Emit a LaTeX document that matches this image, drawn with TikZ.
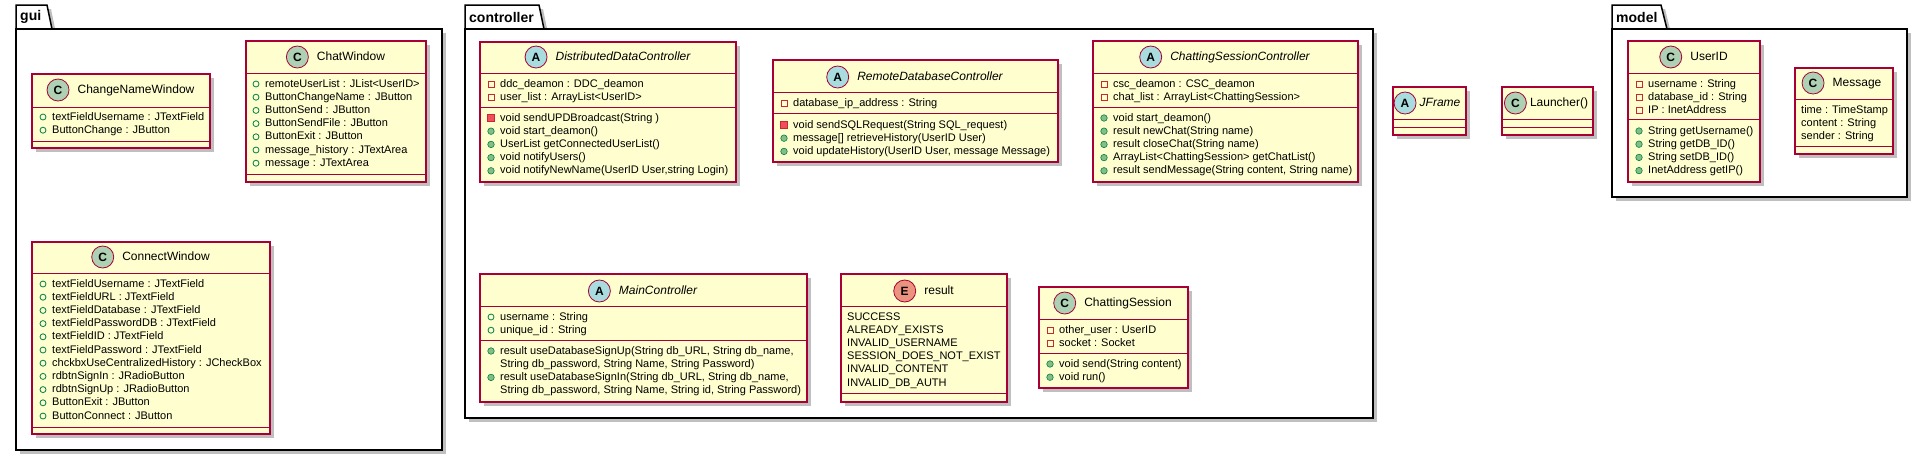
\documentclass[tikz,border=0pt]{standalone}
\usepackage{fontspec}
\setmainfont{Liberation Sans}
\usepackage{xcolor}
\usetikzlibrary{positioning,shadows}

\definecolor{umlfill}{HTML}{FEFECE}
\definecolor{umlborder}{HTML}{A80036}
\definecolor{spotC}{HTML}{ADD1B2}
\definecolor{spotA}{HTML}{A9DCDF}
\definecolor{spotE}{HTML}{EB937F}
\definecolor{privred}{HTML}{C82930}
\definecolor{privfill}{HTML}{F24D5C}
\definecolor{pubgreen}{HTML}{038048}
\definecolor{pubfill}{HTML}{84BE84}

\begin{document}
\begin{tikzpicture}[x=1pt, y=-1pt,
    boxshadow/.style={drop shadow={shadow xshift=4pt, shadow yshift=-4pt, fill=black, opacity=0.25}},
    pkg/.style={draw=black, fill=white, line width=1.5pt, boxshadow},
    pkgname/.style={anchor=west, inner sep=0pt, font=\fontsize{14}{16}\selectfont\bfseries},
    classbox/.style={draw=umlborder, fill=umlfill, line width=1.2pt, boxshadow},
    sepline/.style={draw=umlborder, line width=1pt},
    spot/.style={circle, draw=umlborder, line width=0.8pt, minimum size=22pt, inner sep=0pt,
        left=8pt of #1, font=\fontsize{12}{14}\selectfont\bfseries},
    cname/.style={inner sep=0pt, text height=9pt, text depth=2.5pt, font=\fontsize{12}{14}\selectfont},
    aname/.style={cname, font=\fontsize{12}{14}\selectfont\itshape},
    member/.style={anchor=west, inner sep=0pt, font=\fontsize{11}{13}\selectfont, text height=8pt, text depth=2pt},
    pubattr/.style={circle, draw=pubgreen, line width=0.8pt, minimum size=6pt, inner sep=0pt},
    pubmeth/.style={circle, draw=pubgreen, fill=pubfill, line width=0.6pt, minimum size=6.5pt, inner sep=0pt},
    privattr/.style={rectangle, draw=privred, line width=0.8pt, minimum size=6pt, inner sep=0pt},
    privmeth/.style={rectangle, draw=privred, fill=privfill, line width=0.6pt, minimum size=7pt, inner sep=0pt},
    noicon/.style={inner sep=0pt, minimum size=0pt}
]

    \useasboundingbox (0,0) rectangle (1923,456);

    % ==========================================
    % PACKAGES (drawn first to stay in background)
    % ==========================================

    % gui
    \draw[pkg] (16,29) -- (16,5) -- (47,5) -- (52,29) -- cycle;
    \draw[pkg] (16,29) rectangle (442,450);
    \node[pkgname] (gui) at (20,17) {gui};

    % controller
    \draw[pkg] (465,29) -- (465,5) -- (539,5) -- (544,29) -- cycle;
    \draw[pkg] (465,29) rectangle (1373,418);
    \node[pkgname] (controller) at (469,17) {controller};

    % model
    \draw[pkg] (1612,29) -- (1612,5) -- (1661,5) -- (1667,29) -- cycle;
    \draw[pkg] (1612,29) rectangle (1907,197);
    \node[pkgname] (model) at (1616,17) {model};

    % ==========================================
    % GUI CLASSES
    % ==========================================

    % ChangeNameWindow
    \draw[classbox] (32,74) rectangle (210,148);
    \draw[sepline] (32,107) -- (210,107) (32,141) -- (210,141);
    \node[cname] (cnw) at (136,90) {ChangeNameWindow};
    \node[spot=cnw, fill=spotC] (cnw-spot) {C};
    \foreach \k/\t [count=\i from 0] in {pubattr/textFieldUsername : JTextField, pubattr/ButtonChange : JButton}
    {
        \node[\k] (cnw-i\i) at (43,117+13.2*\i) {};
        \node[member] (cnw-a\i) at (52,117+13.2*\i) {\t};
    }

    % ChatWindow
    \draw[classbox] (246,41) rectangle (426,182);
    \draw[sepline] (246,73) -- (426,73) (246,174) -- (426,174);
    \node[cname] (cw) at (351,57) {ChatWindow};
    \node[spot=cw, fill=spotC] (cw-spot) {C};
    \foreach \k/\t [count=\i from 0] in {pubattr/remoteUserList : JList<UserID>, pubattr/ButtonChangeName : JButton,
        pubattr/ButtonSend : JButton, pubattr/ButtonSendFile : JButton, pubattr/ButtonExit : JButton,
        pubattr/message\_history : JTextArea, pubattr/message : JTextArea}
    {
        \node[\k] (cw-i\i) at (256,84+13.2*\i) {};
        \node[member] (cw-a\i) at (265,84+13.2*\i) {\t};
    }

    % ConnectWindow
    \draw[classbox] (32,242) rectangle (270,434);
    \draw[sepline] (32,273) -- (270,273) (32,427) -- (270,427);
    \node[cname] (con) at (166,257) {ConnectWindow};
    \node[spot=con, fill=spotC] (con-spot) {C};
    \foreach \k/\t [count=\i from 0] in {pubattr/textFieldUsername : JTextField, pubattr/textFieldURL : JTextField,
        pubattr/textFieldDatabase : JTextField, pubattr/textFieldPasswordDB : JTextField,
        pubattr/textFieldID : JTextField, pubattr/textFieldPassword : JTextField,
        pubattr/chckbxUseCentralizedHistory : JCheckBox, pubattr/rdbtnSignIn : JRadioButton,
        pubattr/rdbtnSignUp : JRadioButton, pubattr/ButtonExit : JButton, pubattr/ButtonConnect : JButton}
    {
        \node[\k] (con-i\i) at (43,284+13.2*\i) {};
        \node[member] (con-a\i) at (52,284+13.2*\i) {\t};
    }

    % ==========================================
    % CONTROLLER CLASSES
    % ==========================================

    % DistributedDataController
    \draw[classbox] (480,42) rectangle (736,182);
    \draw[sepline] (480,73) -- (736,73) (480,107) -- (736,107);
    \node[aname] (ddc) at (623,57) {DistributedDataController};
    \node[spot=ddc, fill=spotA] (ddc-spot) {A};
    \foreach \k/\t [count=\i from 0] in {privattr/ddc\_deamon : DDC\_deamon, privattr/user\_list : ArrayList<UserID>}
    {
        \node[\k] (ddc-i\i) at (491,84+13.2*\i) {};
        \node[member] (ddc-a\i) at (500,84+13.2*\i) {\t};
    }
    \foreach \k/\t [count=\i from 0] in {privmeth/void sendUPDBroadcast(String ), pubmeth/void start\_deamon(),
        pubmeth/UserList getConnectedUserList(), pubmeth/void notifyUsers(),
        pubmeth/{void notifyNewName(UserID User,string Login)}}
    {
        \node[\k] (ddc-j\i) at (491,118+13.2*\i) {};
        \node[member] (ddc-m\i) at (500,118+13.2*\i) {\t};
    }

    % RemoteDatabaseController
    \draw[classbox] (773,60) rectangle (1058,162);
    \draw[sepline] (773,92) -- (1058,92) (773,113) -- (1058,113);
    \node[aname] (rdc) at (930,77) {RemoteDatabaseController};
    \node[spot=rdc, fill=spotA] (rdc-spot) {A};
    \node[privattr] (rdc-i0) at (784,103) {};
    \node[member] (rdc-a0) at (793,103) {database\_ip\_address : String};
    \foreach \k/\t [count=\i from 0] in {privmeth/void sendSQLRequest(String SQL\_request),
        pubmeth/message[] retrieveHistory(UserID User),
        pubmeth/{void updateHistory(UserID User, message Message)}}
    {
        \node[\k] (rdc-j\i) at (784,125+13.2*\i) {};
        \node[member] (rdc-m\i) at (793,125+13.2*\i) {\t};
    }

    % ChattingSessionController
    \draw[classbox] (1093,41) rectangle (1358,182);
    \draw[sepline] (1093,73) -- (1358,73) (1093,107) -- (1358,107);
    \node[aname] (csc) at (1240,57) {ChattingSessionController};
    \node[spot=csc, fill=spotA] (csc-spot) {A};
    \foreach \k/\t [count=\i from 0] in {privattr/csc\_deamon : CSC\_deamon, privattr/chat\_list : ArrayList<ChattingSession>}
    {
        \node[\k] (csc-i\i) at (1104,84+13.2*\i) {};
        \node[member] (csc-a\i) at (1113,84+13.2*\i) {\t};
    }
    \foreach \k/\t [count=\i from 0] in {pubmeth/void start\_deamon(), pubmeth/result newChat(String name),
        pubmeth/result closeChat(String name), pubmeth/ArrayList<ChattingSession> getChatList(),
        pubmeth/{result sendMessage(String content, String name)}}
    {
        \node[\k] (csc-j\i) at (1104,118+13.2*\i) {};
        \node[member] (csc-m\i) at (1113,118+13.2*\i) {\t};
    }

    % MainController
    \draw[classbox] (480,274) rectangle (807,402);
    \draw[sepline] (480,306) -- (807,306) (480,340) -- (807,340);
    \node[aname] (mc) at (658,291) {MainController};
    \node[spot=mc, fill=spotA] (mc-spot) {A};
    \foreach \k/\t [count=\i from 0] in {pubattr/username : String, pubattr/unique\_id : String}
    {
        \node[\k] (mc-i\i) at (491,317+13.2*\i) {};
        \node[member] (mc-a\i) at (500,317+13.2*\i) {\t};
    }
    \foreach \k/\t [count=\i from 0] in {pubmeth/{result useDatabaseSignUp(String db\_URL, String db\_name,},
        noicon/{String db\_password, String Name, String Password)},
        pubmeth/{result useDatabaseSignIn(String db\_URL, String db\_name,},
        noicon/{String db\_password, String Name, String id, String Password)}}
    {
        \node[\k] (mc-j\i) at (491,351+13.2*\i) {};
        \node[member] (mc-m\i) at (500,351+13.2*\i) {\t};
    }

    % result (enum)
    \draw[classbox] (841,274) rectangle (1007,402);
    \draw[sepline] (841,306) -- (1007,306) (841,393) -- (1007,393);
    \node[cname] (res) at (939,291) {result};
    \node[spot=res, fill=spotE] (res-spot) {E};
    \foreach \t [count=\i from 0] in {SUCCESS, ALREADY\_EXISTS, INVALID\_USERNAME,
        SESSION\_DOES\_NOT\_EXIST, INVALID\_CONTENT, INVALID\_DB\_AUTH}
        \node[member] (res-v\i) at (847,317+13.2*\i) {\t};

    % ChattingSession
    \draw[classbox] (1039,287) rectangle (1188,388);
    \draw[sepline] (1039,319) -- (1188,319) (1039,353) -- (1188,353);
    \node[cname] (cs) at (1128,303) {ChattingSession};
    \node[spot=cs, fill=spotC] (cs-spot) {C};
    \foreach \k/\t [count=\i from 0] in {privattr/other\_user : UserID, privattr/socket : Socket}
    {
        \node[\k] (cs-i\i) at (1050,330+13.2*\i) {};
        \node[member] (cs-a\i) at (1059,330+13.2*\i) {\t};
    }
    \foreach \k/\t [count=\i from 0] in {pubmeth/void send(String content), pubmeth/void run()}
    {
        \node[\k] (cs-j\i) at (1050,364+13.2*\i) {};
        \node[member] (cs-m\i) at (1059,364+13.2*\i) {\t};
    }

    % ==========================================
    % TOP LEVEL CLASSES
    % ==========================================

    % JFrame
    \draw[classbox] (1393,87) rectangle (1466,135);
    \draw[sepline] (1393,119) -- (1466,119) (1393,127) -- (1466,127);
    \node[aname] (jf) at (1440,103) {JFrame};
    \node[spot=jf, fill=spotA, left=3pt of jf] (jf-spot) {A};

    % Launcher()
    \draw[classbox] (1502,87) rectangle (1593,135);
    \draw[sepline] (1502,119) -- (1593,119) (1502,127) -- (1593,127);
    \node[cname] (la) at (1559,103) {Launcher()};
    \node[spot=la, fill=spotC, left=3pt of la] (la-spot) {C};

    % ==========================================
    % MODEL CLASSES
    % ==========================================

    % UserID
    \draw[classbox] (1628,41) rectangle (1760,182);
    \draw[sepline] (1628,73) -- (1760,73) (1628,119) -- (1760,119);
    \node[cname] (uid) at (1709,57) {UserID};
    \node[spot=uid, fill=spotC] (uid-spot) {C};
    \foreach \k/\t [count=\i from 0] in {privattr/username : String, privattr/database\_id : String,
        privattr/IP : InetAddress}
    {
        \node[\k] (uid-i\i) at (1639,84+13.2*\i) {};
        \node[member] (uid-a\i) at (1648,84+13.2*\i) {\t};
    }
    \foreach \k/\t [count=\i from 0] in {pubmeth/String getUsername(), pubmeth/String getDB\_ID(),
        pubmeth/String setDB\_ID(), pubmeth/InetAddress getIP()}
    {
        \node[\k] (uid-j\i) at (1639,131+13.2*\i) {};
        \node[member] (uid-m\i) at (1648,131+13.2*\i) {\t};
    }

    % Message
    \draw[classbox] (1795,68) rectangle (1893,154);
    \draw[sepline] (1795,99) -- (1893,99) (1795,146) -- (1893,146);
    \node[cname] (msg) at (1857,83) {Message};
    \node[spot=msg, fill=spotC] (msg-spot) {C};
    \foreach \t [count=\i from 0] in {time : TimeStamp, content : String, sender : String}
        \node[member] (msg-a\i) at (1801,110+13.2*\i) {\t};

\end{tikzpicture}
\end{document}
